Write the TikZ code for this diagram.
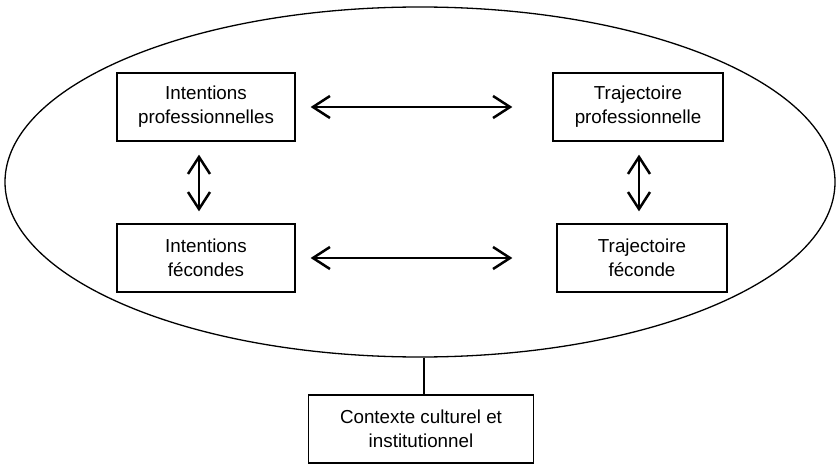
\documentclass[tikz,border=0pt]{standalone}
\usepackage{fontspec}
\setmainfont{Liberation Sans}
\usetikzlibrary{arrows.meta,positioning,shapes.geometric}

\begin{document}
\begin{tikzpicture}[x=1pt,y=1pt,on grid,node distance=151pt and 432pt,
                    main node/.style={rectangle,draw,line width=1.3pt,minimum height=68pt,
                    align=center,font=\fontsize{18.8}{24}\selectfont},
                    link/.style={line width=2.5pt,{Straight Barb[length=17pt,width=22pt]}-{Straight Barb[length=17pt,width=22pt]}}]
  \useasboundingbox (0,0) rectangle (837,464);

  \node[ellipse,draw,line width=1.3pt,minimum width=830pt,minimum height=350pt,inner sep=0pt] (ell) at (420,282) {};
  \node[main node,minimum width=178pt] (ip) at (206,357) {Intentions\\professionnelles};
  \node[main node,minimum width=170pt] (tp) [right=of ip] {Trajectoire\\professionnelle};
  \node[main node,minimum width=178pt] (if) [below=of ip] {Intentions\\fécondes};
  \node[main node,minimum width=170pt] (tf) [right=436pt of if] {Trajectoire\\féconde};
  \node[main node,minimum width=225pt] (ctx) at (421,35) {Contexte culturel et\\institutionnel};

  \path[link]
    (ip) edge[shorten <=15pt,shorten >=40pt] (tp)
    (if) edge[shorten <=15pt,shorten >=44pt] (tf)
    ([xshift=-7pt]ip.south) edge[shorten <=13pt,shorten >=12pt] ([xshift=-7pt]if.north)
    ([xshift=1pt]tp.south) edge[shorten <=13pt,shorten >=12pt] ([xshift=-3pt]tf.north);
  \draw[line width=1.3pt] ([xshift=4pt]ell.south) -- ([xshift=4pt]ell.south |- ctx.north);
\end{tikzpicture}
\end{document}
